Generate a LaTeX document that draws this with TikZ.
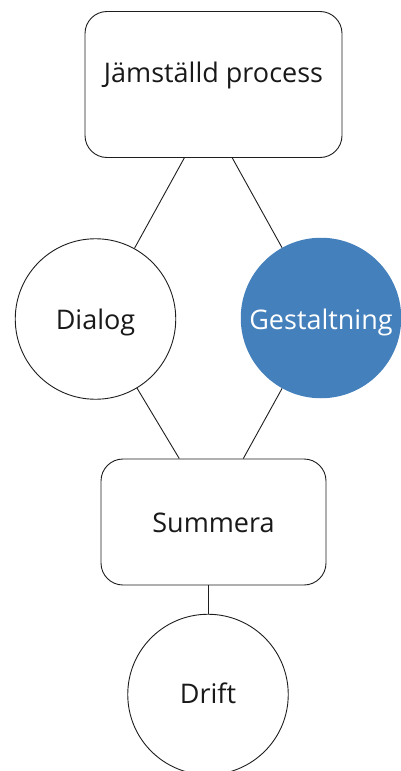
\documentclass[tikz,border=0pt]{standalone}
\usepackage{fontspec}
\setmainfont{Open Sans}
\definecolor{accent}{RGB}{68,128,188}
\definecolor{edge}{RGB}{30,30,30}
\tikzset{
  x=1pt,y=-1pt,
  rbox/.style={draw=edge,line width=0.9pt,rounded corners=22pt,fill=white,inner sep=0pt},
  ring/.style={circle,draw=edge,line width=0.9pt,minimum size=160.5pt,inner sep=0pt,fill=white},
  ringfill/.style={circle,draw=none,minimum size=160.5pt,inner sep=0pt,fill=accent},
  txt/.style={font=\fontsize{27}{32}\selectfont,inner sep=0pt,text=black!90,anchor=base},
  link/.style={draw=edge,line width=0.9pt}
}
\begin{document}
\begin{tikzpicture}
\useasboundingbox (0,0) rectangle (401,771);
\node[rbox,minimum width=257pt,minimum height=146pt] (top) at (213.5,84.5) {};
\node[txt] (toptext) at (213.5,82) {Jämställd process};
\node[ring] (dialog) at (95.5,319) {};
\node[txt] (dialogtext) at (95.5,329) {Dialog};
\node[ringfill] (gest) at (321,318) {};
\node[txt,text=white] (gesttext) at (321,329) {Gestaltning};
\node[rbox,minimum width=225pt,minimum height=126pt] (sum) at (213.5,522) {};
\node[txt] (sumtext) at (213.5,532) {Summera};
\node[ring] (drift) at (208,694.5) {};
\node[txt] (drifttext) at (208,703) {Drift};
\draw[link] ([xshift=-29.2pt]top.south) -- (dialog);
\draw[link] ([xshift=18.8pt]top.south) -- (gest);
\draw[link] (dialog) -- ([xshift=-34.2pt]sum.north);
\draw[link] (gest) -- ([xshift=29.8pt]sum.north);
\draw[link] ([xshift=-5.5pt]sum.south) -- (drift.north);
\end{tikzpicture}
\end{document}
